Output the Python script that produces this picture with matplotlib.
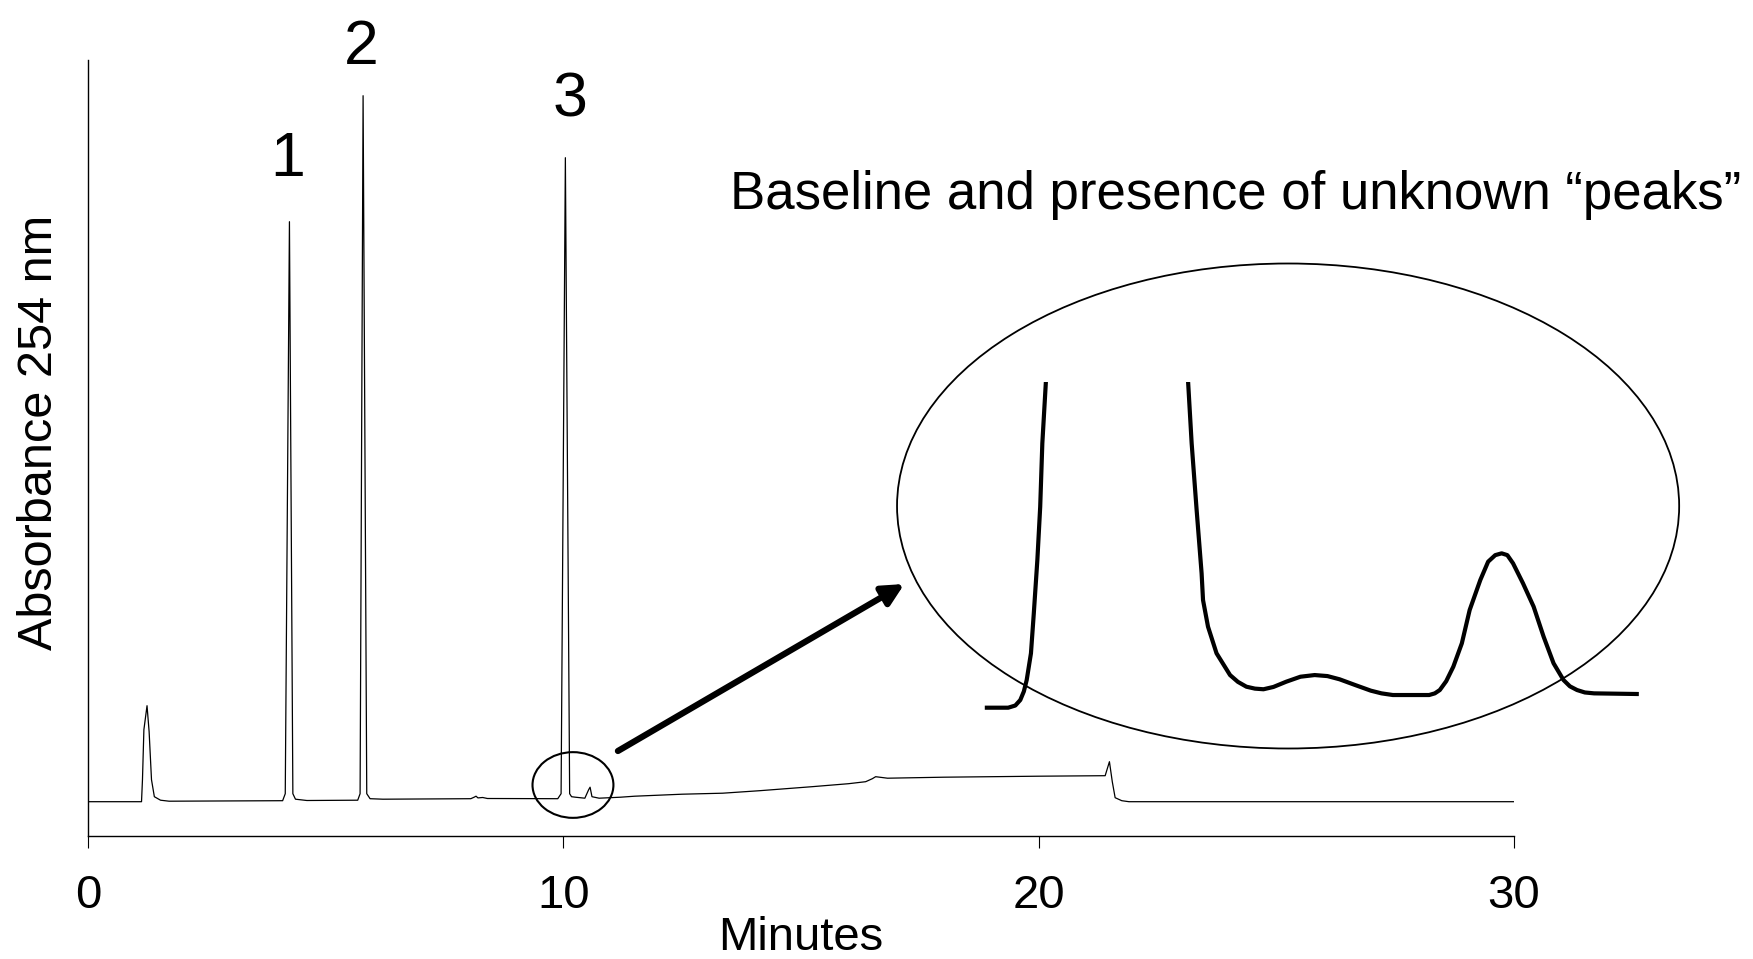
import numpy as np
import matplotlib.pyplot as plt
from matplotlib.patches import Ellipse

plt.rcParams['font.family'] = ['Liberation Sans', 'DejaVu Sans']

# Chromatogram trace (minutes, absorbance in arbitrary units)
time_min = [0.0, 1.12, 1.14, 1.17, 1.236, 1.28, 1.33, 1.39, 1.52, 1.7,
            4.09, 4.145, 4.233, 4.305, 4.36, 4.6,
            5.67, 5.72, 5.783, 5.86, 5.93, 6.2,
            8.05, 8.12, 8.16, 8.2, 8.3, 8.4,
            9.88, 9.95, 10.04, 10.13, 10.17, 10.25, 10.45, 10.53, 10.56, 10.6, 10.75,
            11.2, 11.5, 12.5, 13.35, 14.13, 15.23, 16.0, 16.36, 16.5, 16.57, 16.82,
            18.0, 19.0, 20.0, 21.4, 21.49, 21.55, 21.61, 21.75, 21.9, 30.0]
absorb = [0.0, 0.0, 22, 72, 96, 70, 22, 5, 1.5, 0.5,
          1.0, 8, 580, 8, 2.5, 1.2,
          1.5, 8, 706, 8, 3, 2.5,
          3.0, 4.5, 5.5, 3.8, 4.2, 3.2,
          3.0, 8, 644, 8, 5, 4.5, 3.5, 12, 14.5, 5, 3.5,
          4.5, 5.5, 7.5, 8.5, 11, 15, 18, 20, 23, 25, 23.5,
          24.5, 25, 25.5, 26, 40, 20, 4, 1, 0, 0]

# Zoomed region around peak 3 (inset)
zoom_time = [9.857, 9.887, 9.897, 9.904, 9.909, 9.913, 9.919, 9.923, 9.928, 9.932,
             9.935, 9.940, 10.04,
             10.140, 10.145, 10.152, 10.159, 10.161, 10.168, 10.180, 10.199, 10.21,
             10.222, 10.234, 10.246, 10.26, 10.278, 10.298, 10.318, 10.336, 10.353,
             10.375, 10.397, 10.412, 10.428, 10.479, 10.487, 10.494, 10.503, 10.513,
             10.525, 10.536, 10.551, 10.562, 10.572, 10.581, 10.589, 10.597, 10.611,
             10.626, 10.640, 10.654, 10.668, 10.677, 10.687, 10.698, 10.711, 10.771]
zoom_abs = [2.43, 2.43, 2.6, 3.03, 3.7, 4.59, 6.68, 9.80, 13.97, 18.13,
            23.09, 27.9, 644,
            27.9, 23.09, 17.88, 12.93, 10.84, 8.76, 6.68, 4.98, 4.45,
            4.07, 3.92, 3.87, 4.05, 4.46, 4.85, 4.98, 4.9, 4.65,
            4.2, 3.76, 3.55, 3.42, 3.42, 3.55, 3.81, 4.5, 5.63,
            7.46, 10.06, 12.41, 13.84, 14.35, 14.49, 14.35, 13.71, 12.15,
            10.32, 7.98, 5.90, 4.59, 4.1, 3.81, 3.62, 3.55, 3.50]

peak_labels = ['1', '2', '3']
peak_label_t = [4.20, 5.735, 10.147]
peak_label_y = [626, 738, 685]

fig = plt.figure(figsize=(17.53, 9.59), dpi=100)
ax = fig.add_axes([0.05037, 0.12826, 0.81318, 0.80917])

ax.plot(time_min, absorb, color='k', lw=0.9)
ax.set_xlim(0, 30)
ax.set_ylim(-34.3, 741.7)
ax.set_xticks([0, 10, 20, 30])
ax.set_yticks([])
ax.tick_params(axis='x', direction='out', length=8.5, width=0.8, pad=19, labelsize=34)
for s in ['top', 'right']:
    ax.spines[s].set_visible(False)
for s in ['left', 'bottom']:
    ax.spines[s].set_linewidth(1.0)

ax.set_xlabel('Minutes', fontsize=34, va='top')
ax.xaxis.set_label_coords(0.5, -0.103)
ax.set_ylabel('Absorbance 254 nm', fontsize=35, va='center')
ax.yaxis.set_label_coords(-0.034, 0.52)

for lab, t, y in zip(peak_labels, peak_label_t, peak_label_y):
    ax.text(t, y, lab, fontsize=45, ha='center', va='baseline')

ax.text(13.495, 592.4, 'Baseline and presence of unknown \u201cpeaks\u201d',
        fontsize=38, ha='left', va='baseline')

# small circle around the unknown peaks
ax.add_patch(Ellipse((10.20, 16.7), 1.703, 65.7, fill=False, lw=1.5, ec='k', clip_on=False))
# big ellipse holding the zoom
ax.add_patch(Ellipse((25.25, 295.7), 16.46, 485, fill=False, lw=1.3, ec='k', clip_on=False))

ax.annotate('', xy=(17.174, 217.7), xytext=(11.146, 50.7),
            arrowprops=dict(arrowstyle='-|>', lw=4.5, color='k',
                            mutation_scale=32, shrinkA=0, shrinkB=0))

# inset: zoomed trace
axin = fig.add_axes([0.54763, 0.24922, 0.39932, 0.35276])
axin.plot(zoom_time, zoom_abs, color='k', lw=3, solid_joinstyle='round')
axin.set_xlim(9.8192, 10.8037)
axin.set_ylim(1.46875, 27.9)
axin.axis('off')

plt.savefig('out.png', dpi=100)
